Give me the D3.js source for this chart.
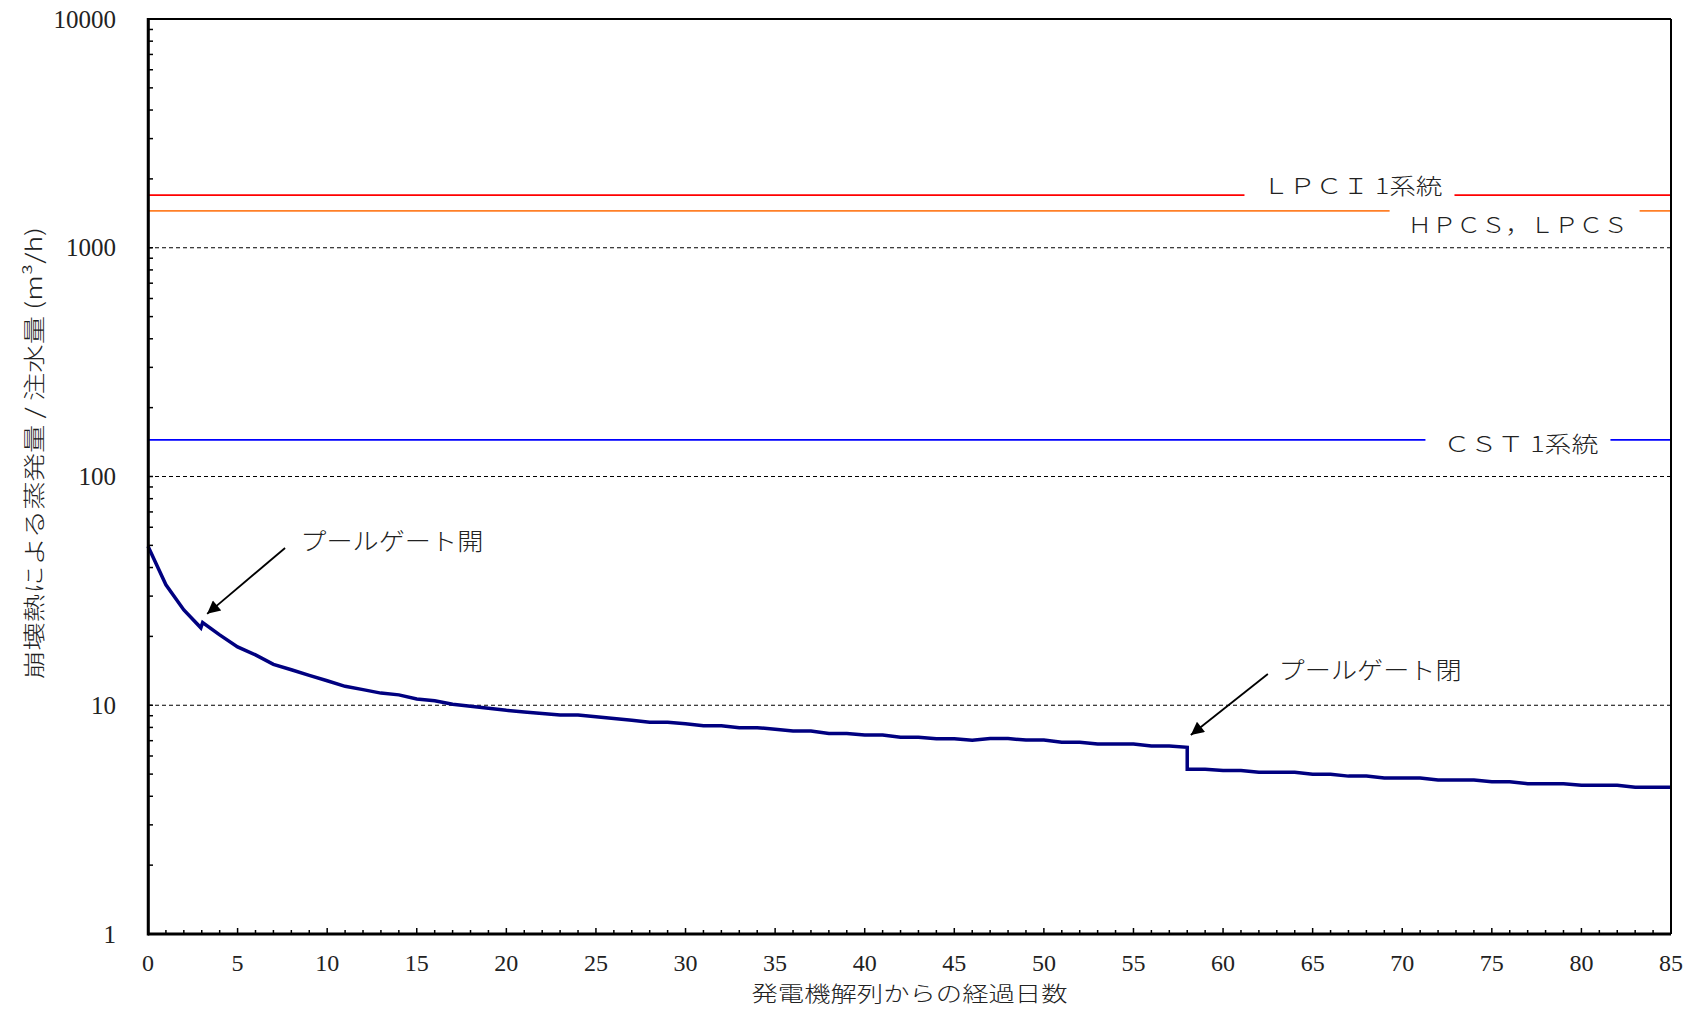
<!DOCTYPE html>
<html>
<head>
<meta charset="utf-8">
<script src="https://cdn.jsdelivr.net/npm/d3@7"></script>
<style>
  html, body { margin: 0; padding: 0; background: #fff; }
  svg { display: block; }
</style>
</head>
<body>
<svg id="chart" width="1692" height="1010"></svg>
<script>
// ---- Data ----
const curveDays = [0,1,2,2.95,3.05,4,5,6,7,8,9,10,11,12,13,14,15,16,17,18,19,20,21,22,23,24,25,26,27,28,29,30,31,32,33,34,35,36,37,38,39,40,41,42,43,44,45,46,47,48,49,50,51,52,53,54,55,56,57,58,58,59,60,61,62,63,64,65,66,67,68,69,70,71,72,73,74,75,76,77,78,79,80,81,82,83,84,85];
const curveValues = [49.5,33.6,26.1,21.8,23.0,20.3,18.0,16.6,15.1,14.3,13.5,12.8,12.1,11.7,11.3,11.1,10.65,10.47,10.1,9.9,9.7,9.5,9.35,9.2,9.06,9.06,8.9,8.75,8.6,8.42,8.42,8.3,8.14,8.14,7.98,7.98,7.85,7.71,7.71,7.53,7.53,7.41,7.41,7.24,7.24,7.14,7.14,7.03,7.15,7.15,7.04,7.04,6.89,6.89,6.77,6.77,6.77,6.63,6.63,6.55,5.25,5.25,5.18,5.18,5.09,5.09,5.09,4.99,4.99,4.9,4.9,4.81,4.81,4.81,4.71,4.71,4.71,4.63,4.63,4.54,4.54,4.54,4.47,4.47,4.47,4.38,4.38,4.38];

const refNames  = ["ＬＰＣＩ 1系統", "ＨＰＣＳ，ＬＰＣＳ", "ＣＳＴ 1系統"];
const refValues = [1700, 1450, 144.5];
const refColors = ["#ff0000", "#ff7f27", "#0000ff"];
const refLabelDays = [62.2, 70.3, 72.3];
const refLabelValues = [1900, 1280, 142];

const xTickValues = [0,5,10,15,20,25,30,35,40,45,50,55,60,65,70,75,80,85];
const yTickValues = [1,10,100,1000,10000];
const gridValues = [10,100,1000];

const annTexts = ["プールゲート開", "プールゲート閉"];
const annTextDays = [8.5, 63.1];
const annTextValues = [52.8, 14.5];
const annFromDays = [7.65, 62.5];
const annFromValues = [48.7, 13.7];
const annToDays = [3.3, 58.2];
const annToValues = [25.1, 7.41];

const xTitle = "発電機解列からの経過日数";
const yTitle = "崩壊熱による蒸発量 / 注水量 (m³/h)";

// ---- Layout ----
const svg = d3.select("#chart");
const L = 148, R = 1671, T = 19, B = 934;
const x = d3.scaleLinear().domain([0, 85]).range([L, R]);
const y = d3.scaleLog().domain([1, 10000]).range([B, T]);

const serif = "'Liberation Serif', 'DejaVu Serif', serif";
const cjk = "'Noto Sans CJK JP', 'Noto Sans', sans-serif";

// gridlines
svg.append("g").selectAll("line").data(gridValues).join("line")
  .attr("x1", L).attr("x2", R)
  .attr("y1", d => y(d)).attr("y2", d => y(d))
  .attr("stroke", "#000").attr("stroke-width", 1.2)
  .attr("stroke-dasharray", "4,3");

// reference lines
svg.append("g").selectAll("line").data(refValues).join("line")
  .attr("x1", L).attr("x2", R)
  .attr("y1", d => y(d)).attr("y2", d => y(d))
  .attr("stroke", (d, i) => refColors[i]).attr("stroke-width", 1.8);

// reference labels with white background
const refG = svg.append("g");
const refWidths = [180, 220, 155];
refNames.forEach((name, i) => {
  const tx = x(refLabelDays[i]);
  const ty = y(refLabelValues[i]);
  refG.append("rect")
    .attr("x", tx - 18).attr("y", ty - 16)
    .attr("width", refWidths[i] + 30).attr("height", 30)
    .attr("fill", "#fff");
  refG.append("text")
    .attr("x", tx).attr("y", ty)
    .attr("dominant-baseline", "central")
    .attr("font-family", cjk).attr("font-size", 22)
    .attr("font-weight", 300)
    .attr("fill", "#222")
    .attr("textLength", refWidths[i]).attr("lengthAdjust", "spacingAndGlyphs")
    .text(name);
});

// curve
const line = d3.line().x(d => x(d[0])).y(d => y(d[1]));
svg.append("path")
  .datum(curveDays.map((d, i) => [d, curveValues[i]]))
  .attr("d", line)
  .attr("fill", "none")
  .attr("stroke", "#000080")
  .attr("stroke-width", 3.5)
  .attr("stroke-linejoin", "miter");

// y axis (domain only)
const yAxis = d3.axisLeft(y).tickValues([]).tickSize(0);
svg.append("g").attr("transform", `translate(${L},0)`).call(yAxis)
  .call(g => g.select(".domain").attr("stroke-width", 2.5));

// y minor & major ticks (inward)
const yTicksAll = [];
for (let e = 0; e < 4; e++) for (let m = 1; m < 10; m++) yTicksAll.push(m * Math.pow(10, e));
yTicksAll.push(10000);
svg.append("g").selectAll("line").data(yTicksAll).join("line")
  .attr("x1", L).attr("x2", L + 5)
  .attr("y1", d => y(d)).attr("y2", d => y(d))
  .attr("stroke", "#000").attr("stroke-width", 1.5);

// x axis ticks (inward)
const xTicksAll = d3.range(0, 86);
svg.append("g").selectAll("line").data(xTicksAll).join("line")
  .attr("x1", d => x(d)).attr("x2", d => x(d))
  .attr("y1", B).attr("y2", d => B - (d % 5 === 0 ? 6 : 4))
  .attr("stroke", "#000").attr("stroke-width", 1.5);

// frame lines
svg.append("line").attr("x1", L).attr("x2", R).attr("y1", B).attr("y2", B)
  .attr("stroke", "#000").attr("stroke-width", 3);
svg.append("line").attr("x1", R).attr("x2", R).attr("y1", T).attr("y2", B)
  .attr("stroke", "#000").attr("stroke-width", 2);
svg.append("line").attr("x1", L).attr("x2", R).attr("y1", T).attr("y2", T)
  .attr("stroke", "#000").attr("stroke-width", 2);
svg.append("line").attr("x1", L).attr("x2", L).attr("y1", T - 1).attr("y2", B + 1.5)
  .attr("stroke", "#000").attr("stroke-width", 2.5);

// tick labels
svg.append("g").selectAll("text").data(yTickValues).join("text")
  .attr("x", 116).attr("y", d => y(d))
  .attr("text-anchor", "end").attr("dominant-baseline", "central")
  .attr("font-family", serif).attr("font-size", 25).attr("fill", "#222")
  .text(d => d);
svg.append("g").selectAll("text").data(xTickValues).join("text")
  .attr("x", d => x(d)).attr("y", 963)
  .attr("text-anchor", "middle").attr("dominant-baseline", "central")
  .attr("font-family", serif).attr("font-size", 24).attr("fill", "#222")
  .text(d => d);

// axis titles
svg.append("text")
  .attr("x", x(42.5)).attr("y", 992)
  .attr("text-anchor", "middle").attr("dominant-baseline", "central")
  .attr("font-family", cjk).attr("font-size", 21).attr("font-weight", 300).attr("fill", "#222")
  .attr("textLength", 316).attr("lengthAdjust", "spacingAndGlyphs")
  .text(xTitle);
svg.append("text")
  .attr("transform", `translate(32,453) rotate(-90)`)
  .attr("text-anchor", "middle").attr("dominant-baseline", "central")
  .attr("font-family", cjk).attr("font-size", 22).attr("font-weight", 300).attr("fill", "#222")
  .attr("textLength", 452).attr("lengthAdjust", "spacingAndGlyphs")
  .text(yTitle);

// annotations
svg.append("defs").append("marker")
  .attr("id", "arrow").attr("viewBox", "0 0 10 10")
  .attr("refX", 10).attr("refY", 5)
  .attr("markerWidth", 18).attr("markerHeight", 13)
  .attr("markerUnits", "userSpaceOnUse")
  .attr("orient", "auto")
  .append("path").attr("d", "M0,0 L10,5 L0,10 Z").attr("fill", "#000");

annTexts.forEach((t, i) => {
  svg.append("line")
    .attr("x1", x(annFromDays[i])).attr("y1", y(annFromValues[i]))
    .attr("x2", x(annToDays[i])).attr("y2", y(annToValues[i]))
    .attr("stroke", "#000").attr("stroke-width", 1.8)
    .attr("marker-end", "url(#arrow)");
  svg.append("text")
    .attr("x", x(annTextDays[i])).attr("y", y(annTextValues[i]))
    .attr("dominant-baseline", "central")
    .attr("font-family", cjk).attr("font-size", 24).attr("font-weight", 300).attr("fill", "#222")
    .attr("textLength", 183).attr("lengthAdjust", "spacingAndGlyphs")
    .text(t);
});
</script>
</body>
</html>
